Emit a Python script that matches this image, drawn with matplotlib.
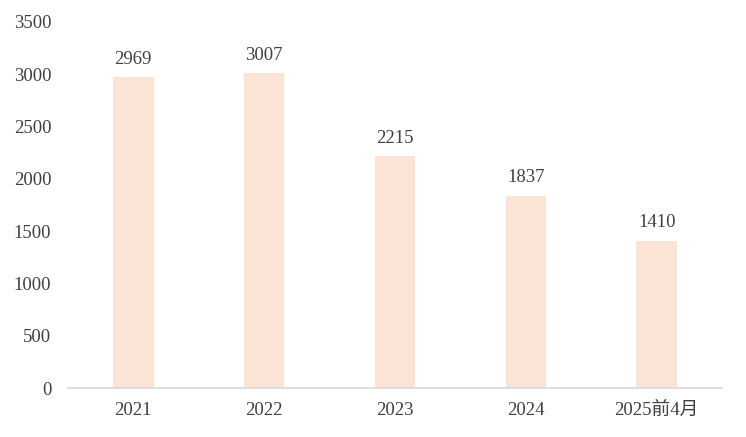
import matplotlib
matplotlib.use('Agg')
import matplotlib.pyplot as plt

plt.rcParams['font.family'] = ['Liberation Serif', 'Noto Sans CJK SC']

categories = ['2021', '2022', '2023', '2024', '2025前4月']
values = [2969, 3007, 2215, 1837, 1410]

BAR = '#FBE3D6'
TXT = '#404040'

fig = plt.figure(figsize=(7.46, 4.37), dpi=100)
ax = fig.add_axes([0.091, 0.112, 0.877, 0.838])

bars = ax.bar(categories, values, width=0.31, color=BAR)
for b, v in zip(bars, values):
    ax.annotate(str(v), (b.get_x() + b.get_width() / 2, v),
                xytext=(0, 7), textcoords='offset points',
                ha='center', va='bottom', fontsize=13.5, color=TXT)

ax.set_ylim(0, 3500)
ax.set_yticks(range(0, 3501, 500))
ax.set_xlim(-0.5, len(categories) - 0.5)
for s in ['top', 'right', 'left']:
    ax.spines[s].set_visible(False)
ax.spines['bottom'].set_color('#D9D9D9')
ax.spines['bottom'].set_linewidth(1.2)
ax.tick_params(axis='both', length=0, labelsize=13.5, colors=TXT)
ax.tick_params(axis='y', pad=12)
ax.tick_params(axis='x', pad=10)

fig.savefig('out.png', dpi=100)
